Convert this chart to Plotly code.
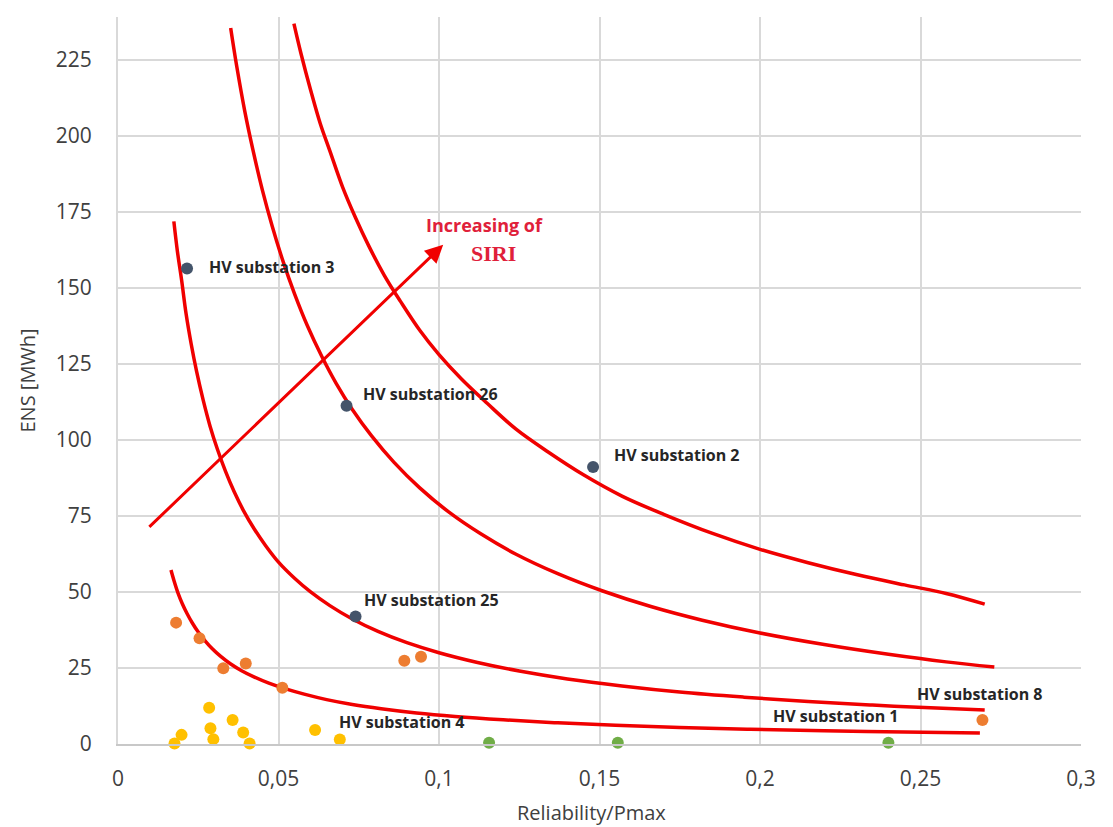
import plotly.graph_objects as go

# ---- data ----
x_ticks = [0, 0.05, 0.1, 0.15, 0.2, 0.25, 0.3]
x_tick_labels = ["0", "0,05", "0,1", "0,15", "0,2", "0,25", "0,3"]
y_ticks = [0, 25, 50, 75, 100, 125, 150, 175, 200, 225]

# iso-SIRI curves
curve1_x = [0.0548, 0.057, 0.06, 0.063, 0.066, 0.07, 0.074, 0.078, 0.083, 0.088, 0.094, 0.1, 0.107, 0.115,
            0.124, 0.134, 0.145, 0.157, 0.17, 0.185, 0.2, 0.215, 0.23, 0.245, 0.258, 0.27]
curve1_y = [236.8, 227, 215, 204, 195, 183, 173, 164, 154, 145.5, 136, 128, 120, 112,
            103.5, 96, 88.5, 81.5, 75.5, 69.3, 64, 59.6, 55.7, 52.3, 49.5, 46]
curve2_x = [0.0351, 0.037, 0.0395, 0.042, 0.045, 0.048, 0.0515, 0.055, 0.059, 0.0635, 0.068, 0.073, 0.079,
            0.086, 0.094, 0.103, 0.113, 0.124, 0.137, 0.151, 0.166, 0.182, 0.2, 0.22, 0.24, 0.258, 0.273]
curve2_y = [235.4, 222.7, 208, 195.5, 182, 170.4, 158.4, 148, 137.5, 127.4, 118.5, 110, 101.3,
            92.6, 84.2, 76.3, 69.1, 62.4, 56, 50.3, 45.2, 40.7, 36.5, 32.7, 29.5, 27, 25.3]
curve3_x = [0.0174, 0.0185, 0.0198, 0.0212, 0.0228, 0.0245, 0.0265, 0.0287, 0.031, 0.0335, 0.0362, 0.039,
            0.0425, 0.046, 0.05, 0.055, 0.06, 0.066, 0.073, 0.081, 0.09, 0.1, 0.112, 0.125, 0.14, 0.157,
            0.175, 0.195, 0.215, 0.235, 0.255, 0.27]
curve3_y = [171.8, 162, 152.6, 141.5, 131.5, 122.4, 113.2, 104.4, 96.8, 89.6, 82.9, 76.9,
            70.6, 65.2, 59.8, 54.5, 50, 45.5, 41.1, 37, 33.3, 30, 26.8, 24, 21.4, 19.1,
            17.1, 15.4, 13.95, 12.8, 11.8, 11.2]
curve4_x = [0.0165, 0.0175, 0.0187, 0.02, 0.0215, 0.0232, 0.025, 0.027, 0.0293, 0.032, 0.035, 0.0385,
            0.0425, 0.047, 0.052, 0.058, 0.065, 0.073, 0.082, 0.093, 0.105, 0.12, 0.137, 0.155, 0.175,
            0.197, 0.22, 0.245, 0.2685]
curve4_y = [57.2, 53.5, 49.6, 46.2, 42.9, 39.7, 36.8, 34.1, 31.4, 28.8, 26.4, 24.1,
            22.0, 20.0, 18.2, 16.4, 14.6, 13, 11.6, 10.2, 9.05, 7.95, 6.95, 6.15, 5.45,
            4.85, 4.35, 3.95, 3.6]

# substations
blue_names = ["HV substation 3", "HV substation 26", "HV substation 2", "HV substation 25"]
blue_x = [0.0215, 0.0712, 0.148, 0.074]
blue_y = [156.3, 111.2, 91.1, 41.9]

orange_x = [0.0181, 0.0254, 0.0328, 0.0398, 0.0512, 0.0892, 0.0944, 0.2693]
orange_y = [39.9, 34.8, 24.9, 26.5, 18.5, 27.4, 28.7, 7.9]

yellow_x = [0.0176, 0.0198, 0.0284, 0.0288, 0.0297, 0.0357, 0.039, 0.041, 0.0614, 0.0691]
yellow_y = [0.2, 3.0, 11.9, 5.2, 1.6, 7.9, 3.8, 0.2, 4.6, 1.5]

green_x = [0.1156, 0.1557, 0.240]
green_y = [0.4, 0.4, 0.4]

# arrow "Increasing of SIRI"
arrow_start = (0.0093, 70.9)
arrow_end = (0.1013, 164.1)

RED = "#f00000"
FONT = "Open Sans"
AX_COL = "#404040"

fig = go.Figure()

for cx, cy in [(curve1_x, curve1_y), (curve2_x, curve2_y), (curve3_x, curve3_y), (curve4_x, curve4_y)]:
    fig.add_trace(go.Scatter(x=cx, y=cy, mode="lines", line=dict(color=RED, width=3.5, shape="spline", smoothing=1.0),
                             hoverinfo="skip", showlegend=False))

mk = dict(size=12)
fig.add_trace(go.Scatter(x=yellow_x, y=yellow_y, mode="markers", marker=dict(color="#ffc000", **mk), cliponaxis=False, showlegend=False))
fig.add_trace(go.Scatter(x=orange_x, y=orange_y, mode="markers", marker=dict(color="#ed7d31", **mk), cliponaxis=False, showlegend=False))
fig.add_trace(go.Scatter(x=green_x, y=green_y, mode="markers", marker=dict(color="#70ad47", **mk), cliponaxis=False, showlegend=False))
fig.add_trace(go.Scatter(x=blue_x, y=blue_y, mode="markers", marker=dict(color="#44546a", **mk), cliponaxis=False,
                         text=blue_names, showlegend=False))

lab_font = dict(family=FONT, size=16, color="#262626")
label_specs = [
    ("HV substation 3", blue_x[0], blue_y[0], "left", 20, 2),
    ("HV substation 26", blue_x[1], blue_y[1], "left", 14, 12),
    ("HV substation 2", blue_x[2], blue_y[2], "left", 19, 12),
    ("HV substation 25", blue_x[3], blue_y[3], "left", 6, 17),
    ("HV substation 4", yellow_x[8], yellow_y[8], "left", 22, 8),
    ("HV substation 1", green_x[2], green_y[2], "right", 13, 27),
    ("HV substation 8", orange_x[7], orange_y[7], "center", -2, 26),
]
for txt, px, py, anc, xs, ys in label_specs:
    fig.add_annotation(x=px, y=py, text="<b>%s</b>" % txt, showarrow=False, xanchor=anc, yanchor="middle",
                       xshift=xs, yshift=ys, font=lab_font)

fig.add_annotation(x=arrow_end[0], y=arrow_end[1], ax=arrow_start[0], ay=arrow_start[1],
                   xref="x", yref="y", axref="x", ayref="y", showarrow=True, arrowhead=2,
                   arrowsize=1.2, arrowwidth=3, arrowcolor=RED, text="")

fig.add_annotation(x=arrow_end[0], y=arrow_end[1], text="<b>Increasing of</b>", showarrow=False,
                   xanchor="center", yanchor="middle", xshift=41, yshift=20,
                   font=dict(family=FONT, size=18, color="#e0203a"))
fig.add_annotation(x=arrow_end[0], y=arrow_end[1], text="<b>SIRI</b>", showarrow=False,
                   xanchor="center", yanchor="middle", xshift=50, yshift=-9,
                   font=dict(family="Liberation Serif", size=22, color="#e0203a"))

# axis titles
fig.add_annotation(xref="paper", yref="paper", x=0.5, y=0, yshift=-68, xshift=-8, text="Reliability/Pmax",
                   showarrow=False, xanchor="center", yanchor="middle",
                   font=dict(family=FONT, size=20, color=AX_COL))
fig.add_annotation(xref="paper", yref="paper", x=0, y=0.5, xshift=-91, text="ENS [MWh]", textangle=-90,
                   showarrow=False, xanchor="center", yanchor="middle",
                   font=dict(family=FONT, size=20, color=AX_COL))

fig.update_layout(
    width=1105, height=819,
    margin=dict(l=110, r=32, t=9, b=83),
    paper_bgcolor="white", plot_bgcolor="white",
    separators=",.",
    showlegend=False,
    xaxis=dict(range=[0, 0.3], tickvals=x_ticks, ticktext=x_tick_labels, showgrid=True, automargin=False,
               gridcolor="#d9d9d9", gridwidth=2, zeroline=False, showline=True, linecolor="#c8c8c8", linewidth=2,
               ticks="outside", ticklen=15, tickcolor="rgba(0,0,0,0)",
               tickfont=dict(family=FONT, size=21, color=AX_COL)),
    yaxis=dict(range=[0, 239], tickvals=y_ticks, showgrid=True, gridcolor="#d9d9d9", gridwidth=2, automargin=False,
               zeroline=False, showline=True, linecolor="#d9d9d9", linewidth=2,
               ticks="outside", ticklen=20, tickcolor="rgba(0,0,0,0)",
               tickfont=dict(family=FONT, size=21, color=AX_COL)),
)

fig.write_html("out.html")
